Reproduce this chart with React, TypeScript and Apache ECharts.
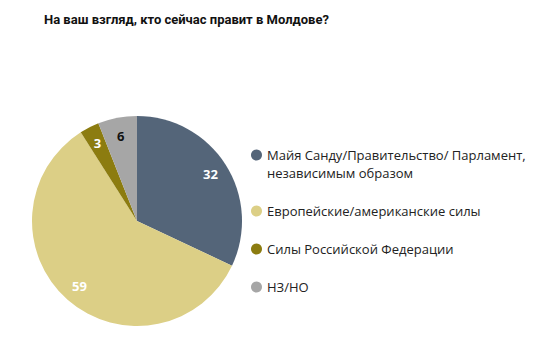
import React, { useEffect, useRef } from "react";
import * as echarts from "echarts";

const titleText = "На ваш взгляд, кто сейчас правит в Молдове?";
const categories = [
  "Майя Санду/Правительство/ Парламент,\nнезависимым образом",
  "Европейские/американские силы",
  "Силы Российской Федерации",
  "НЗ/НО",
];
const values = [32, 59, 3, 6];
const colors = ["#546579", "#dccf86", "#8c7c10", "#a6a6a6"];
const labelColors = ["#ffffff", "#ffffff", "#ffffff", "#111111"];

export default function App() {
  const ref = useRef<HTMLDivElement>(null);
  useEffect(() => {
    if (!ref.current) return;
    const chart = echarts.init(ref.current, undefined, { renderer: "svg" });
    const font = "'Open Sans', 'Noto Sans', sans-serif";
    const center = [137, 221];
    const R = 105;
    chart.setOption({
      animation: false,
      backgroundColor: "#ffffff",
      title: {
        text: titleText,
        left: 39,
        top: 8,
        textStyle: { fontFamily: "Roboto, 'Open Sans', sans-serif", fontSize: 13, fontWeight: "bold", color: "#111111" },
      },
      legend: {
        orient: "vertical",
        left: 246,
        top: 123,
        itemWidth: 11,
        itemHeight: 11,
        itemGap: 20,
        icon: "circle",
        textStyle: { fontFamily: font, fontSize: 13, color: "#222222", lineHeight: 18 },
        formatter: (name: string) => (name === categories[0] ? "\n" + name : name),
        data: categories,
      },
      series: [
        {
          type: "pie",
          center,
          radius: [0, R],
          startAngle: 90,
          clockwise: true,
          label: { show: false },
          labelLine: { show: false },
          emphasis: { disabled: true },
          data: categories.map((c, i) => ({
            name: c,
            value: values[i],
            itemStyle: { color: colors[i] },
          })),
        },
        {
          type: "pie",
          center,
          radius: [R * 0.6, R],
          startAngle: 90,
          clockwise: true,
          silent: true,
          labelLine: { show: false },
          emphasis: { disabled: true },
          label: {
            show: true,
            position: "inside",
            formatter: "{c}",
            fontFamily: font,
            fontSize: 13,
            fontWeight: "bold",
          },
          data: categories.map((c, i) => ({
            name: c,
            value: values[i],
            itemStyle: { color: "rgba(0,0,0,0)", borderWidth: 0 },
            label: { color: labelColors[i] },
          })),
        },
      ],
    });
    return () => chart.dispose();
  }, []);
  return (
    <div
      ref={ref}
      style={{ position: "fixed", left: 0, top: 0, width: 540, height: 360 }}
    />
  );
}
